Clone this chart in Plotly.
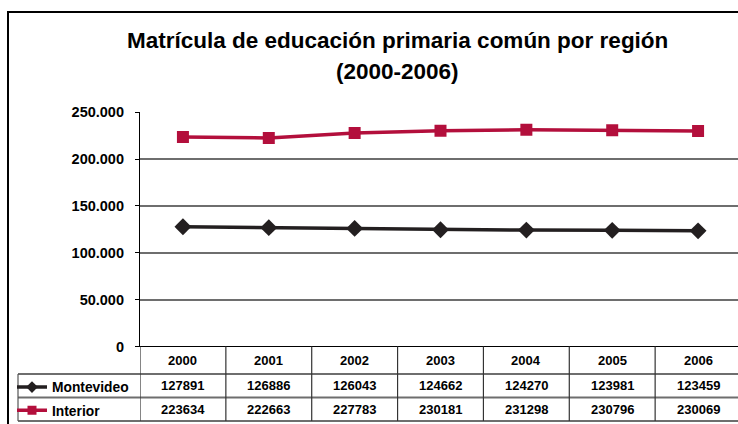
import plotly.graph_objects as go

years = ["2000", "2001", "2002", "2003", "2004", "2005", "2006"]
montevideo = [127891, 126886, 126043, 124662, 124270, 123981, 123459]
interior = [223634, 222663, 227783, 230181, 231298, 230796, 230069]
series_names = ["Montevideo", "Interior"]
series_colors = ["#231F20", "#B30F3C"]
series_symbols = ["diamond", "square"]
title_lines = ["Matrícula de educación primaria común por región", "(2000-2006)"]
y_ticks = [0, 50000, 100000, 150000, 200000, 250000]

W, H = 738, 424
FONT = "Liberation Sans, Arial, sans-serif"

def px(x):  # page pixel -> paper fraction
    return x / W

def py(y):
    return (H - y) / H

idx = list(range(len(years)))
fig = go.Figure()
for name, vals, col, sym in zip(series_names, [montevideo, interior], series_colors, series_symbols):
    fig.add_trace(go.Scatter(
        x=idx, y=vals, name=name, mode="lines+markers",
        line=dict(color=col, width=3.5),
        marker=dict(symbol=sym, size=12 if sym == "square" else 13, color=col),
        showlegend=False,
    ))
# legend keys (smaller, like the data-table keys of the original)
for name, col, sym in zip(series_names, series_colors, series_symbols):
    fig.add_trace(go.Scatter(
        x=[None], y=[None], name=name, mode="lines+markers",
        line=dict(color=col, width=3.5),
        marker=dict(symbol=sym, size=9, color=col),
        legendgroup=name, showlegend=True,
    ))

plot_left, plot_right, plot_top, plot_bottom = 140, 741, 112.3, 346.5
row_lines = [plot_bottom, 374, 397.5, 421]
table_left = 18

fig.update_layout(
    template="none",
    width=W, height=H, autosize=False,
    margin=dict(l=0, r=0, t=0, b=0, pad=0, autoexpand=False),
    paper_bgcolor="white", plot_bgcolor="white",
    separators=",.",
    font=dict(family=FONT, color="#000"),
    showlegend=True,
    legend=dict(
        x=px(12), y=py(371.6), xanchor="left", yanchor="top",
        bgcolor="rgba(0,0,0,0)", borderwidth=0,
        font=dict(family=FONT, size=13.8, color="#000", weight="bold"),
        traceorder="grouped", tracegroupgap=2.2,
    ),
    xaxis=dict(
        domain=[px(plot_left), 1], range=[-0.5, 6.5 - (plot_right - W) / ((plot_right - plot_left) / 7)],
        showgrid=False, zeroline=False, showticklabels=False, ticks="",
        showline=False, fixedrange=True, automargin=False,
    ),
    yaxis=dict(
        domain=[py(plot_bottom), py(plot_top)], range=[0, 250000],
        tickvals=y_ticks, tickformat=",d",
        ticks="outside", ticklen=4, tickcolor="#000", tickwidth=1,
        showline=True, linecolor="#000", linewidth=1.2,
        showgrid=True, gridcolor="#6E6E6E", gridwidth=1.8,
        zeroline=False, automargin=False,
        tickfont=dict(family=FONT, size=14.5, color="#000", weight="bold"),
        ticklabelstandoff=8,
    ),
)

shapes = []
# outer chart border (cropped on right and bottom)
shapes.append(dict(type="rect", xref="paper", yref="paper",
                   x0=px(8), x1=1.05, y0=-0.05, y1=py(12),
                   line=dict(color="#000", width=2), layer="below"))
# table horizontal lines
shapes.append(dict(type="line", xref="paper", yref="paper", x0=px(plot_left), x1=1.02,
                   y0=py(row_lines[0]), y1=py(row_lines[0]), line=dict(color="#000", width=1.2)))
for yl in row_lines[1:]:
    shapes.append(dict(type="line", xref="paper", yref="paper", x0=px(table_left), x1=1.02,
                       y0=py(yl), y1=py(yl), line=dict(color="#6E6E6E", width=1.8)))
# vertical lines
shapes.append(dict(type="line", xref="paper", yref="paper", x0=px(table_left), x1=px(table_left),
                   y0=py(row_lines[1]), y1=py(row_lines[3]), line=dict(color="#555", width=1.2)))
for k in range(len(years) + 1):
    shapes.append(dict(type="line", xref="x", yref="paper", x0=k - 0.5, x1=k - 0.5,
                       y0=py(row_lines[0]), y1=py(row_lines[3]), line=dict(color="#333", width=1.2)))
fig.update_layout(shapes=shapes)

annotations = []
tfont = dict(family=FONT, size=13, color="#000", weight="bold")
row_centers = [(row_lines[i] + row_lines[i + 1]) / 2 for i in range(3)]
for k, yr in enumerate(years):
    for r, txt in enumerate([yr, str(montevideo[k]), str(interior[k])]):
        annotations.append(dict(x=k, y=py(row_centers[r]), xref="x", yref="paper", text=txt,
                                showarrow=False, font=tfont, xanchor="center", yanchor="middle"))
title_font = dict(family=FONT, size=22.5, color="#000", weight="bold")
annotations.append(dict(x=px(397.5), y=py(40.5), xref="paper", yref="paper", text=title_lines[0],
                        showarrow=False, font=title_font, xanchor="center", yanchor="middle"))
annotations.append(dict(x=px(397.5), y=py(72), xref="paper", yref="paper", text=title_lines[1],
                        showarrow=False, font=title_font, xanchor="center", yanchor="middle"))
fig.update_layout(annotations=annotations)

fig.write_html("out.html", config={"displayModeBar": False},
               post_script="document.body.style.margin='0';document.body.style.overflow='hidden';")
